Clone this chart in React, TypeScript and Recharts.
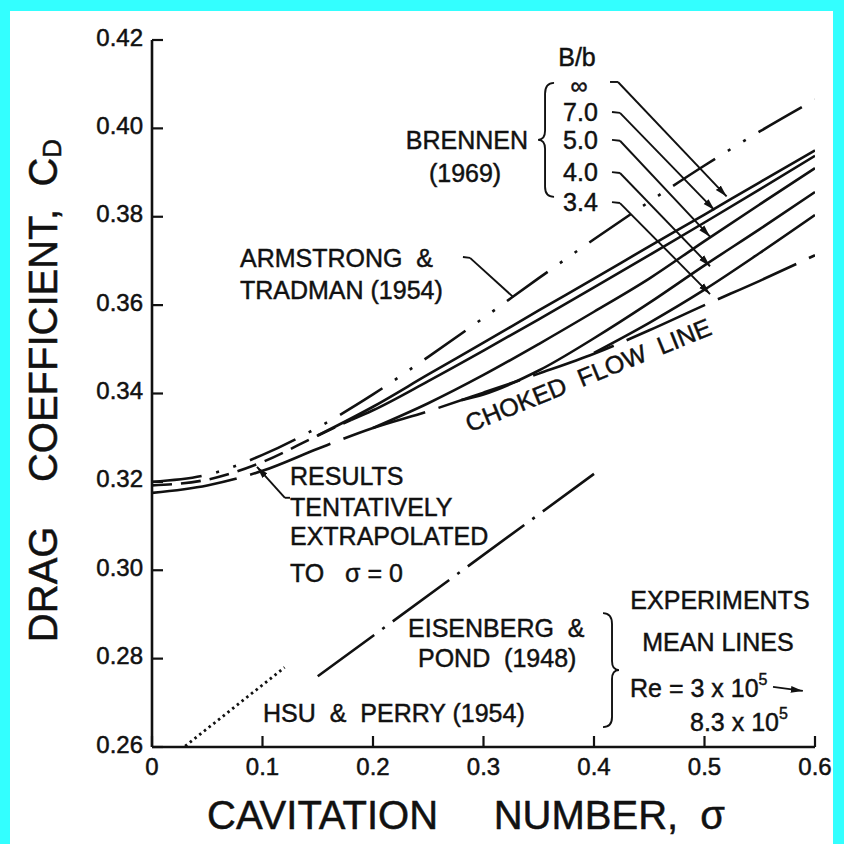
import React from "react"
import { LineChart, Line, XAxis, YAxis, ReferenceLine, ReferenceDot, Label } from "recharts"

// readings: cavitation number sigma vs drag coefficient C_D
const armstrongSigma = [0, 0.05, 0.1, 0.15, 0.2, 0.25, 0.3, 0.35, 0.4, 0.45, 0.5, 0.55, 0.6]
const armstrongCd = [0.32, 0.3216, 0.3261, 0.3323, 0.3398, 0.3483, 0.3571, 0.3661, 0.3749, 0.3834, 0.3916, 0.3993, 0.4065]

const extrapSigma = [0, 0.05, 0.1, 0.15, 0.18]
const extrapCd = [0.3192, 0.3205, 0.3245, 0.3305, 0.334]

const infSigma = [0.15, 0.2, 0.25, 0.3, 0.35, 0.4, 0.45, 0.5, 0.55, 0.6]
const infCd = [0.3305, 0.337, 0.3443, 0.3515, 0.3588, 0.366, 0.3733, 0.3805, 0.3878, 0.395]

const b70Sigma = [0.18, 0.2, 0.25, 0.3, 0.35, 0.4, 0.45, 0.5, 0.55, 0.6]
const b70Cd = [0.334, 0.3362, 0.3428, 0.3497, 0.3568, 0.364, 0.3713, 0.3787, 0.3862, 0.3938]

const b50Sigma = [0.2, 0.25, 0.3, 0.35, 0.4, 0.45, 0.5, 0.55, 0.6]
const b50Cd = [0.3322, 0.3378, 0.3442, 0.3512, 0.3585, 0.366, 0.3745, 0.3828, 0.391]

const b40Sigma = [0.28, 0.3, 0.35, 0.4, 0.45, 0.5, 0.55, 0.6]
const b40Cd = [0.3385, 0.3398, 0.3452, 0.3525, 0.3605, 0.369, 0.3772, 0.3856]

const b34Sigma = [0.4, 0.45, 0.5, 0.55, 0.6]
const b34Cd = [0.3492, 0.356, 0.3635, 0.3718, 0.3804]

const chokedSigma = [0, 0.05, 0.1, 0.15, 0.2, 0.25, 0.3, 0.35, 0.4, 0.45, 0.5, 0.55, 0.6]
const chokedCd = [0.3175, 0.3192, 0.3225, 0.3275, 0.3322, 0.336, 0.3402, 0.3445, 0.349, 0.3543, 0.36, 0.3655, 0.3713]

const eisenbergSigma = [0.15, 0.4]
const eisenbergCd = [0.276, 0.3218]

const hsuSigma = [0.03, 0.12]
const hsuCd = [0.2602, 0.278]

const sigmaTicks = [0, 0.1, 0.2, 0.3, 0.4, 0.5, 0.6]
const cdTicks = [0.26, 0.28, 0.3, 0.32, 0.34, 0.36, 0.38, 0.4, 0.42]

const ratioLabels = ["7.0", "5.0", "4.0", "3.4"]

const FONT = "'Liberation Sans', Arial, Helvetica, sans-serif"
const INK = "#111"

const pts = (xs: number[], ys: number[]) => xs.map((x, i) => ({ x, y: ys[i] }))

const note = (
	key: string,
	x: number,
	y: number,
	content: React.ReactNode,
	opts: { anchor?: "start" | "middle" | "end"; size?: number; rotate?: number } = {}
) => (
	<ReferenceDot
		key={key}
		x={x}
		y={y}
		r={1}
		ifOverflow="visible"
		shape={(p: any) => (
			<text
				x={p.cx}
				y={p.cy}
				textAnchor={opts.anchor || "start"}
				dominantBaseline="central"
				fontFamily={FONT}
				fontSize={opts.size || 25}
				fill={INK}
				stroke={INK}
				strokeWidth={0.45}
				style={{ whiteSpace: "pre" }}
				transform={opts.rotate ? `rotate(${opts.rotate}, ${p.cx}, ${p.cy})` : undefined}
			>
				{content}
			</text>
		)}
	/>
)

const leader = (key: string, x1: number, y1: number, x2: number, y2: number, arrow = false) => (
	<ReferenceLine
		key={key}
		segment={[
			{ x: x1, y: y1 },
			{ x: x2, y: y2 },
		]}
		stroke={INK}
		strokeWidth={1.9}
		ifOverflow="visible"
		markerEnd={arrow ? "url(#leaderArrow)" : undefined}
	/>
)

const brace = (key: string, x: number, y: number, dir: 1 | -1) => (
	<ReferenceDot
		key={key}
		x={x}
		y={y}
		r={1}
		ifOverflow="visible"
		shape={(p: any) => {
			const { cx, cy } = p
			const d = dir
			return (
				<path
					d={`M ${cx + 9 * d} ${cy - 57} Q ${cx} ${cy - 57} ${cx} ${cy - 46} L ${cx} ${cy - 9} Q ${cx} ${cy} ${cx - 7 * d} ${cy} Q ${cx} ${cy} ${cx} ${cy + 9} L ${cx} ${cy + 47} Q ${cx} ${cy + 57} ${cx + 9 * d} ${cy + 57}`}
					fill="none"
					stroke={INK}
					strokeWidth={1.9}
				/>
			)
		}}
	/>
)

const XTitle = (props: any) => {
	const { x, y } = props.viewBox
	return (
		<text
			x={x + 55}
			y={y + 68}
			textAnchor="start"
			dominantBaseline="central"
			fontFamily={FONT}
			fontSize={40}
			fill={INK}
			stroke={INK}
			strokeWidth={0.5}
			style={{ whiteSpace: "pre" }}
		>
			{"CAVITATION     NUMBER,  σ"}
		</text>
	)
}

const YTitle = (props: any) => {
	const { x, y, height } = props.viewBox
	const cx = x - 49
	const cy = y + height / 2 - 3
	return (
		<text
			x={cx}
			y={cy}
			transform={`rotate(-90, ${cx}, ${cy})`}
			textAnchor="middle"
			dominantBaseline="central"
			fontFamily={FONT}
			fontSize={40}
			fill={INK}
			stroke={INK}
			strokeWidth={0.5}
			style={{ whiteSpace: "pre" }}
		>
			{"DRAG    COEFFICIENT,  C"}
			<tspan fontSize={26} dy={9}>
				D
			</tspan>
		</text>
	)
}

const XTick = (props: any) => {
	const { x, y, payload } = props
	const v = payload.value as number
	return (
		<text x={x} y={y + 17} textAnchor="middle" fontFamily={FONT} fontSize={24} fill={INK} stroke={INK} strokeWidth={0.5}>
			{v === 0 ? "0" : v.toFixed(1)}
		</text>
	)
}

const YTick = (props: any) => {
	const { x, y, payload } = props
	const v = payload.value as number
	return (
		<text x={x} y={y - 3} textAnchor="end" dominantBaseline="central" fontFamily={FONT} fontSize={24} fill={INK} stroke={INK} strokeWidth={0.5}>
			{v.toFixed(2)}
		</text>
	)
}

const axisStroke = { stroke: INK, strokeWidth: 2.6 }
const tickStroke = { stroke: INK, strokeWidth: 2.2 }
const W = 2.6

const App: React.FC = () => (
	<div style={{ position: "fixed", left: 0, top: 0, width: 844, height: 844, background: "#33ffff" }}>
		<div style={{ position: "absolute", left: 10, top: 11, width: 823, height: 833, background: "#fff" }} />
		<svg width={0} height={0} style={{ position: "absolute" }}>
			<defs>
				<marker
					id="leaderArrow"
					markerUnits="userSpaceOnUse"
					markerWidth={13}
					markerHeight={8}
					refX={12}
					refY={4}
					orient="auto"
				>
					<path d="M0,0.6 L12,4 L0,7.4 Z" fill={INK} />
				</marker>
			</defs>
		</svg>
		<div style={{ position: "absolute", left: 0, top: 0 }}>
			<LineChart width={844} height={844} margin={{ top: 40, right: 29, bottom: 67, left: 92 }}>
				<XAxis
					dataKey="x"
					type="number"
					domain={[0, 0.6]}
					ticks={sigmaTicks}
					allowDataOverflow
					tick={<XTick />}
					axisLine={axisStroke}
					tickLine={tickStroke}
					tickSize={-11}
					tickMargin={22}
					height={30}
					interval={0}
				>
					<Label content={XTitle} />
				</XAxis>
				<XAxis
					xAxisId="top"
					orientation="top"
					dataKey="x"
					type="number"
					domain={[0, 0.6]}
					ticks={sigmaTicks}
					allowDataOverflow
					tick={false}
					axisLine={axisStroke}
					tickLine={tickStroke}
					tickSize={-11}
					height={0}
					interval={0}
				/>
				<YAxis
					type="number"
					domain={[0.26, 0.42]}
					ticks={cdTicks}
					allowDataOverflow
					tick={<YTick />}
					axisLine={axisStroke}
					tickLine={tickStroke}
					tickSize={-11}
					tickMargin={20}
					width={60}
					interval={0}
				>
					<Label content={YTitle} />
				</YAxis>
				<YAxis
					yAxisId="right"
					orientation="right"
					type="number"
					domain={[0.26, 0.42]}
					ticks={cdTicks}
					allowDataOverflow
					tick={false}
					axisLine={axisStroke}
					tickLine={tickStroke}
					tickSize={-11}
					width={0}
					interval={0}
				/>

				<Line data={pts(armstrongSigma, armstrongCd)} dataKey="y" type="monotone" stroke={INK} strokeWidth={W} strokeDasharray="50 15 3 15 3 15" dot={false} activeDot={false} isAnimationActive={false} />
				<Line data={pts(extrapSigma, extrapCd)} dataKey="y" type="monotone" stroke={INK} strokeWidth={W} strokeDasharray="20 9" dot={false} activeDot={false} isAnimationActive={false} />
				<Line data={pts(infSigma, infCd)} dataKey="y" type="monotone" stroke={INK} strokeWidth={W} dot={false} activeDot={false} isAnimationActive={false} />
				<Line data={pts(b70Sigma, b70Cd)} dataKey="y" type="monotone" stroke={INK} strokeWidth={W} dot={false} activeDot={false} isAnimationActive={false} />
				<Line data={pts(b50Sigma, b50Cd)} dataKey="y" type="monotone" stroke={INK} strokeWidth={W} dot={false} activeDot={false} isAnimationActive={false} />
				<Line data={pts(b40Sigma, b40Cd)} dataKey="y" type="monotone" stroke={INK} strokeWidth={W} dot={false} activeDot={false} isAnimationActive={false} />
				<Line data={pts(b34Sigma, b34Cd)} dataKey="y" type="monotone" stroke={INK} strokeWidth={W} dot={false} activeDot={false} isAnimationActive={false} />
				<Line data={pts(chokedSigma, chokedCd)} dataKey="y" type="monotone" stroke={INK} strokeWidth={W} strokeDasharray="86 14" dot={false} activeDot={false} isAnimationActive={false} />
				<Line data={pts(eisenbergSigma, eisenbergCd)} dataKey="y" type="linear" stroke={INK} strokeWidth={W} strokeDasharray="70 10 3 10" dot={false} activeDot={false} isAnimationActive={false} />
				<Line data={pts(hsuSigma, hsuCd)} dataKey="y" type="linear" stroke={INK} strokeWidth={2.8} strokeDasharray="2.5 3.5" dot={false} activeDot={false} isAnimationActive={false} />

				{/* Brennen (1969) B/b legend */}
				{note("bb", 0.3846, 0.4162, "B/b", { anchor: "middle" })}
				{note("inf", 0.3864, 0.4098, "∞", { anchor: "middle", size: 24 })}
				{ratioLabels.map((t, i) => note(`r${t}`, 0.372, [0.4037, 0.3974, 0.3901, 0.3833][i], t))}
				{note("brennen", 0.3403, 0.3974, "BRENNEN", { anchor: "end" })}
				{note("brennenYr", 0.2833, 0.3899, "(1969)", { anchor: "middle" })}
				{brace("braceB", 0.3557, 0.3974, 1)}
				{leader("lInfA", 0.4145, 0.4105, 0.4217, 0.4105)}
				{leader("lInfB", 0.4217, 0.4105, 0.52, 0.3846, true)}
				{leader("l70A", 0.4163, 0.4037, 0.4235, 0.4035)}
				{leader("l70B", 0.4235, 0.4035, 0.509, 0.3815, true)}
				{leader("l50A", 0.4163, 0.3974, 0.4235, 0.3972)}
				{leader("l50B", 0.4235, 0.3972, 0.505, 0.3755, true)}
				{leader("l40A", 0.4163, 0.3901, 0.4235, 0.3899)}
				{leader("l40B", 0.4235, 0.3899, 0.505, 0.3688, true)}
				{leader("l34A", 0.4163, 0.3833, 0.4235, 0.3831)}
				{leader("l34B", 0.4235, 0.3831, 0.505, 0.3625, true)}

				{/* Armstrong & Tradman */}
				{note("arm1", 0.0796, 0.3707, "ARMSTRONG  &")}
				{note("arm2", 0.0796, 0.3634, "TRADMAN (1954)")}
				{leader("lArmA", 0.2814, 0.3709, 0.2878, 0.3707)}
				{leader("lArmB", 0.2878, 0.3707, 0.327, 0.3618)}

				{/* extrapolation note */}
				{note("res1", 0.1249, 0.3213, "RESULTS")}
				{note("res2", 0.1249, 0.3143, "TENTATIVELY")}
				{note("res3", 0.1249, 0.3078, "EXTRAPOLATED")}
				{note("res4", 0.1249, 0.2994, "TO   σ = 0")}
				{leader("lResA", 0.1249, 0.3164, 0.1203, 0.3164)}
				{leader("lResB", 0.1203, 0.3164, 0.095, 0.3234, true)}

				{note("choked", 0.3946, 0.3442, "CHOKED  FLOW  LINE", { anchor: "middle", rotate: -22 })}

				{/* experiments */}
				{note("exp1", 0.514, 0.2932, "EXPERIMENTS", { anchor: "middle" })}
				{note("exp2", 0.5122, 0.2837, "MEAN LINES", { anchor: "middle" })}
				{note(
					"re1",
					0.4326,
					0.2734,
					<>
						{"Re = 3 x 10"}
						<tspan fontSize={16} dy={-9}>
							5
						</tspan>
					</>
				)}
				{leader("lRe", 0.562, 0.2736, 0.589, 0.2727, true)}
				{note(
					"re2",
					0.4869,
					0.2657,
					<>
						{"8.3 x 10"}
						<tspan fontSize={16} dy={-9}>
							5
						</tspan>
					</>
				)}
				{note("eis1", 0.2317, 0.2869, "EISENBERG  &")}
				{note("eis2", 0.2407, 0.2801, "POND  (1948)")}
				{note("hsu", 0.1005, 0.2677, "HSU  &  PERRY (1954)")}
				{brace("braceE", 0.4163, 0.2774, -1)}
			</LineChart>
		</div>
	</div>
)

export default App
